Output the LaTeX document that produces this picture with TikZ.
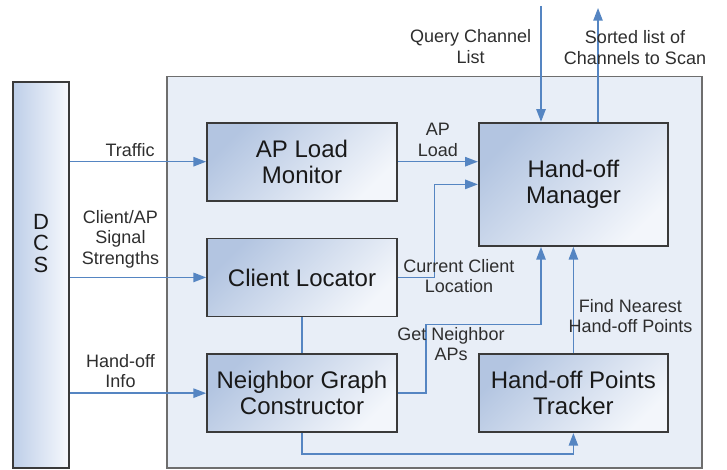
\documentclass[tikz,border=0pt]{standalone}
\usepackage{fontspec}
\setmainfont{Liberation Sans}
\usetikzlibrary{arrows.meta,positioning,calc}

\definecolor{panelfill}{HTML}{E8EEF7}
\definecolor{paneldraw}{HTML}{6E6E6E}
\definecolor{boxdraw}{HTML}{3A3A3A}
\definecolor{shadedark}{HTML}{B3C5E1}
\definecolor{shadelight}{HTML}{F3F6FB}
\definecolor{dcsdark}{HTML}{BDCEE8}
\definecolor{dcslight}{HTML}{F7F9FD}
\definecolor{flowblue}{HTML}{5585C2}
\definecolor{lbltext}{HTML}{2E2E2E}

\begin{document}
\begin{tikzpicture}[x=0.75pt,y=-0.75pt]
\tikzstyle{module}=[draw=boxdraw, line width=1.3pt, top color=shadedark, bottom color=shadelight, shading angle=45, minimum width=142.5pt, minimum height=58.5pt, align=center, text=black!90, font=\fontsize{18}{19.7}\selectfont]
\tikzstyle{lbl}=[align=center, text=lbltext, font=\fontsize{13.5}{15.5}\selectfont]
\tikzset{flowline/.style={draw=flowblue, line width=1.1pt}, flowarrow/.style={flowline, -{Triangle[length=9.5pt,width=7pt]}}}
\useasboundingbox (0,0) rectangle (727,470);
\node[draw=paneldraw, line width=1.3pt, fill=panelfill, minimum width=401.25pt, minimum height=293.5pt] (panel) at (434.2,272.3) {};
\node[draw=boxdraw, line width=1.3pt, left color=dcsdark, right color=dcslight, minimum width=42.5pt, minimum height=289.7pt] (dcs) at (41,274.8) {};
\node[align=center, text=black!90, font=\fontsize{16.5}{16}\selectfont] (dcsname) at (41,243.5) {D\\C\\S};
\node[module] (aplm) at (302,161.7) {AP Load\\Monitor};
\node[module, below=27pt of aplm] (cloc) {Client Locator};
\node[module, below=27pt of cloc] (ngc) {Neighbor Graph\\Constructor};
\node[module, minimum width=142pt, minimum height=92.5pt, right=60pt of aplm.north east, anchor=north west] (hom) {Hand-off\\Manager};
\node[module, minimum width=142pt, right=60pt of ngc] (hpt) {Hand-off Points\\Tracker};
\coordinate (qin) at (541,6);
\coordinate (sout) at (598,8);
\path (dcs.east |- aplm) edge[flowarrow] node[lbl, above, pos=.44] (trlbl) {Traffic} (aplm);
\path (dcs.east |- cloc) edge[flowarrow] node[lbl, above=3pt, pos=.37] (sslbl) {Client/AP\\Signal\\Strengths} (cloc);
\path (dcs.east |- ngc) edge[flowarrow] node[lbl, above, pos=.37] (hilbl) {Hand-off\\Info} (ngc);
\path (aplm) edge[flowarrow] node[lbl, above] (allbl) {AP\\Load} (aplm -| hom.west);
\path (qin) edge[flowarrow] node[lbl, left=3.5pt, pos=.35] (qlbl) {Query Channel\\List} (qin |- hom.north);
\path (sout |- hom.north) edge[flowarrow] node[lbl, pos=.65, xshift=27.75pt] (slbl) {Sorted list of\\Channels to Scan} (sout);
\path (cloc) edge[flowline] (ngc);
\draw[flowarrow] (cloc.east) -- ++(36.5,0) |- (hom.west);
\node[lbl] (cclbl) at (459,276) {Current Client\\Location};
\draw[flowarrow] (ngc.east) -- ++(28,0) -- ++(0,-68.8) -| (qin |- hom.south);
\node[lbl] (gnlbl) at (451,344) {Get Neighbor\\APs};
\path (hpt.north) edge[flowarrow] (hpt.north |- hom.south);
\node[lbl] (fnlbl) at (630.5,316) {Find Nearest\\Hand-off Points};
\draw[flowarrow] (ngc.south) -- ++(0,21) -| (hpt.south);
\end{tikzpicture}
\end{document}
